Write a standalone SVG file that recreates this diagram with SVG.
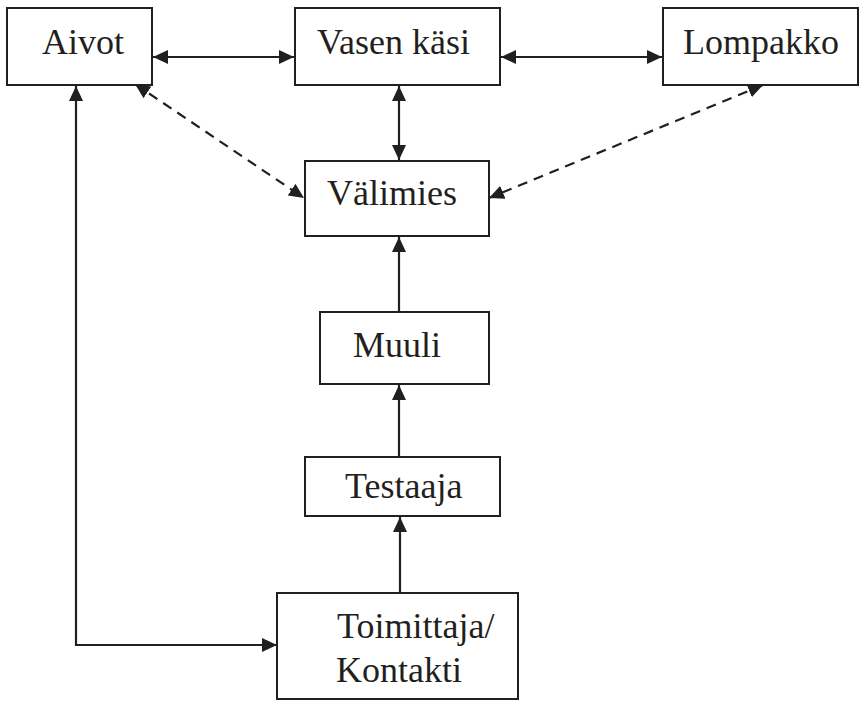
<svg xmlns="http://www.w3.org/2000/svg" width="860" height="701" viewBox="0 0 860 701">
<defs>
<style>
.box{fill:#fff;stroke:#231f20;stroke-width:2}
.lbl{font-family:"Liberation Serif","Times New Roman",serif;font-size:36px;fill:#231f20}
.ln{fill:none;stroke:#231f20;stroke-width:2.2}
.dash{stroke-dasharray:10 7}
</style>
<marker id="ah" markerUnits="userSpaceOnUse" markerWidth="16" markerHeight="14" refX="15" refY="7" orient="auto-start-reverse">
<path d="M0,0 L15,7 L0,14 z" fill="#231f20"/>
</marker>
</defs>
<rect width="860" height="701" fill="#fff"/>
<g id="connectors">
<line class="ln" x1="153" y1="57" x2="294" y2="57" marker-start="url(#ah)" marker-end="url(#ah)"/>
<line class="ln" x1="501" y1="57" x2="662" y2="57" marker-start="url(#ah)" marker-end="url(#ah)"/>
<line class="ln" x1="399" y1="86" x2="399" y2="160" marker-start="url(#ah)" marker-end="url(#ah)"/>
<line class="ln dash" x1="135" y1="84" x2="304" y2="198" marker-start="url(#ah)" marker-end="url(#ah)"/>
<line class="ln dash" x1="763" y1="85" x2="489" y2="198" marker-start="url(#ah)" marker-end="url(#ah)"/>
<line class="ln" x1="399" y1="312" x2="399" y2="237" marker-end="url(#ah)"/>
<line class="ln" x1="399" y1="457" x2="399" y2="385" marker-end="url(#ah)"/>
<line class="ln" x1="400" y1="593" x2="400" y2="517" marker-end="url(#ah)"/>
<polyline class="ln" points="277,645 76,645 76,86" marker-start="url(#ah)" marker-end="url(#ah)"/>
</g>
<g id="aivot">
<rect class="box" x="7" y="8" width="145" height="77"/>
<text class="lbl" x="42" y="54">Aivot</text>
</g>
<g id="vasen-kasi">
<rect class="box" x="295" y="8" width="205" height="77"/>
<text class="lbl" x="317" y="54">Vasen käsi</text>
</g>
<g id="lompakko">
<rect class="box" x="663" y="8" width="195" height="77"/>
<text class="lbl" x="683" y="54">Lompakko</text>
</g>
<g id="valimies">
<rect class="box" x="305" y="161" width="184" height="75"/>
<text class="lbl" x="327" y="205">Välimies</text>
</g>
<g id="muuli">
<rect class="box" x="320" y="312" width="169" height="72"/>
<text class="lbl" x="353" y="357">Muuli</text>
</g>
<g id="testaaja">
<rect class="box" x="305" y="457" width="195" height="59"/>
<text class="lbl" x="345" y="498">Testaaja</text>
</g>
<g id="toimittaja">
<rect class="box" x="277" y="593" width="241" height="106"/>
<text class="lbl" x="337" y="638">Toimittaja/</text>
<text class="lbl" x="336" y="682">Kontakti</text>
</g>
</svg>
